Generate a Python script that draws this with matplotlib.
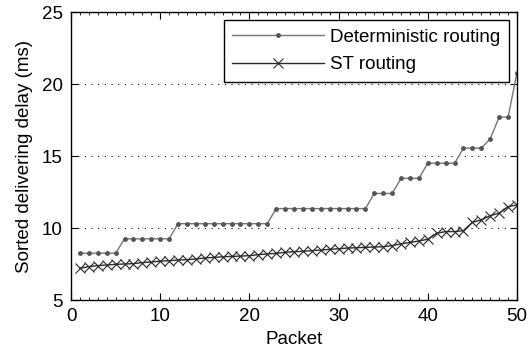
import numpy as np
import matplotlib.pyplot as plt

plt.rcParams['font.family'] = ['Liberation Sans', 'DejaVu Sans']

packets = np.arange(1, 51)
deterministic = ([8.25] * 5 + [9.25] * 6 + [10.3] * 11 + [11.35] * 11 +
                 [12.4] * 3 + [13.45] * 3 + [14.5] * 4 + [15.55] * 3 +
                 [16.2] + [17.7] * 2 + [20.8])
st_routing = [7.2, 7.32, 7.39, 7.43, 7.48, 7.5, 7.53, 7.6, 7.64, 7.7,
              7.73, 7.78, 7.8, 7.85, 7.92, 7.96, 8.0, 8.03, 8.05, 8.08,
              8.15, 8.2, 8.24, 8.31, 8.36, 8.38, 8.43, 8.47, 8.52, 8.56,
              8.61, 8.63, 8.66, 8.68, 8.7, 8.78, 8.9, 9.0, 9.1, 9.22,
              9.64, 9.75, 9.75, 9.82, 10.4, 10.56, 10.86, 11.03, 11.49, 11.6]

fs = 13.5

fig = plt.figure(figsize=(5.32, 3.54), dpi=100)
ax = fig.add_axes([0.1335, 0.1525, 0.8383, 0.8135])

ax.plot(packets, deterministic, color='#777777', lw=1.0, marker='.',
        markersize=5, markerfacecolor='#555555', markeredgecolor='#555555',
        label='Deterministic routing')
ax.plot(packets, st_routing, color='#2a2a2a', lw=1.0, marker='x',
        markersize=7, markeredgewidth=0.8, label='ST routing')

ax.set_xlim(0, 50)
ax.set_ylim(5, 25)
ax.set_xticks([0, 10, 20, 30, 40, 50])
ax.set_yticks([5, 10, 15, 20, 25])
ax.set_xticks(np.arange(0, 51, 1), minor=True)
ax.yaxis.grid(True, linestyle=(0, (1, 5)), color='black', linewidth=0.8)
ax.tick_params(direction='in', top=True, right=True, labelsize=fs,
               length=5, width=0.8, pad=6)
ax.tick_params(which='minor', direction='in', top=True, bottom=True,
               length=2, width=0.6)
for s in ax.spines.values():
    s.set_linewidth(1.0)

ax.set_xlabel('Packet', fontsize=fs, labelpad=4)
ax.set_ylabel('Sorted delivering delay (ms)', fontsize=fs, labelpad=6)

leg = ax.legend(loc='upper right', fontsize=fs, fancybox=False,
                framealpha=1, edgecolor='black', handlelength=4.9,
                borderaxespad=0.45, borderpad=0.45, labelspacing=0.55,
                handletextpad=0.3)
leg.get_frame().set_linewidth(1.0)

fig.savefig('out.png', dpi=100)
